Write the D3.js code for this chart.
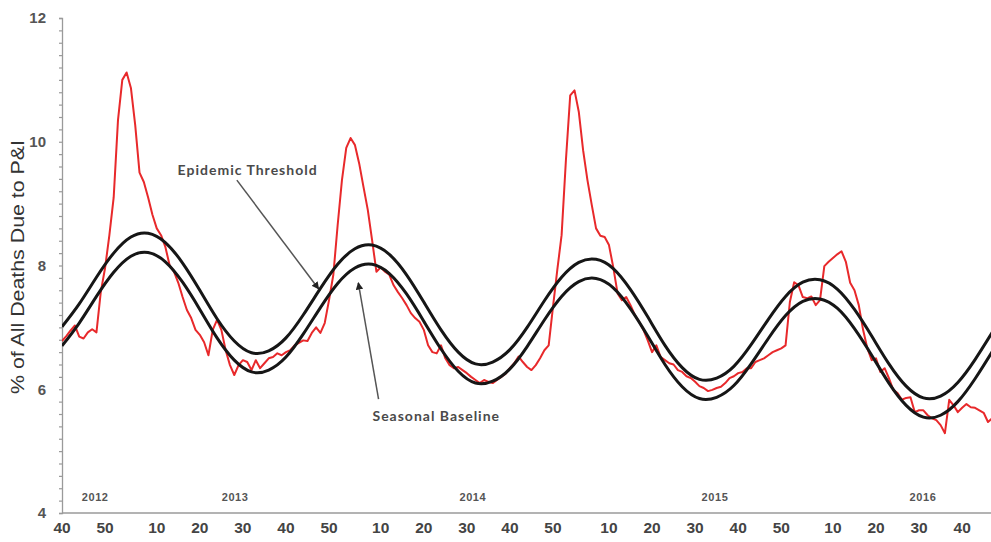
<!DOCTYPE html>
<html>
<head>
<meta charset="utf-8">
<script src="https://cdn.jsdelivr.net/npm/d3@7"></script>
<style>
  html, body { margin: 0; padding: 0; background: #fff; }
  svg { display: block; }
</style>
</head>
<body>
<svg id="chart" width="991" height="542"></svg>
<script>
// Weekly share of all deaths due to pneumonia & influenza (P&I),
// index 0 = MMWR week 40 of 2012.
const startYear = 2012;
const startWeek = 40;
const weeksPerYear = [52, 52, 53, 52, 52]; // 2012 .. 2016

const pniPercent = [
  6.78, 6.86, 6.95, 7.03, 6.85, 6.82, 6.92, 6.97, 6.92, 7.57,
  7.96, 8.49, 9.10, 10.35, 11.00, 11.12, 10.87, 10.27, 9.50, 9.35,
  9.10, 8.82, 8.60, 8.49, 8.30, 8.00, 7.90, 7.72, 7.49, 7.28,
  7.15, 6.96, 6.88, 6.76, 6.55, 6.96, 7.12, 6.96, 6.63, 6.39,
  6.23, 6.39, 6.47, 6.44, 6.31, 6.47, 6.34, 6.42, 6.50, 6.52,
  6.58, 6.55, 6.60, 6.63, 6.71, 6.75, 6.79, 6.78, 6.91, 7.00,
  6.91, 7.07, 7.44, 7.85, 8.65, 9.38, 9.90, 10.06, 9.95, 9.65,
  9.27, 8.90, 8.41, 7.90, 7.97, 7.90, 7.85, 7.68, 7.57, 7.47,
  7.36, 7.23, 7.15, 7.09, 6.96, 6.71, 6.60, 6.58, 6.71, 6.50,
  6.39, 6.34, 6.36, 6.31, 6.26, 6.20, 6.15, 6.10, 6.15, 6.12,
  6.10, 6.15, 6.20, 6.25, 6.34, 6.42, 6.53, 6.44, 6.36, 6.31,
  6.39, 6.50, 6.63, 6.71, 7.33, 7.93, 8.49, 9.70, 10.75, 10.83,
  10.48, 9.86, 9.38, 8.98, 8.60, 8.48, 8.46, 8.33, 7.97, 7.55,
  7.44, 7.49, 7.36, 7.20, 7.09, 6.96, 6.79, 6.60, 6.71, 6.52,
  6.47, 6.42, 6.40, 6.31, 6.28, 6.21, 6.18, 6.12, 6.05, 6.02,
  5.97, 5.99, 6.02, 6.04, 6.10, 6.18, 6.21, 6.26, 6.28, 6.34,
  6.34, 6.44, 6.47, 6.50, 6.55, 6.60, 6.63, 6.66, 6.71, 7.41,
  7.73, 7.68, 7.49, 7.47, 7.50, 7.36, 7.44, 7.99, 8.06, 8.12,
  8.18, 8.23, 8.06, 7.72, 7.60, 7.36, 6.96, 6.66, 6.47, 6.50,
  6.28, 6.34, 6.18, 5.99, 5.94, 5.83, 5.86, 5.87, 5.63, 5.66,
  5.66, 5.58, 5.53, 5.50, 5.42, 5.29, 5.83, 5.74, 5.63, 5.70,
  5.76, 5.71, 5.70, 5.66, 5.62, 5.47, 5.53
];

// Model curves, sampled every fourth week (index).
const curveWeeks = [
  0, 4, 8, 12, 16, 20, 24, 28, 32, 36, 40, 44, 48,
  52, 56, 60, 64, 68, 72, 76, 80, 84, 88, 92, 96, 100,
  104, 108, 112, 116, 120, 124, 128, 132, 136, 140, 144, 148, 152,
  156, 160, 164, 168, 172, 176, 180, 184, 188, 192, 196, 200, 204,
  208, 212, 216
];
const seasonalBaseline = [
  6.70, 7.07, 7.50, 7.89, 8.15, 8.21, 8.06, 7.73, 7.29, 6.83, 6.47, 6.28, 6.31,
  6.52, 6.89, 7.32, 7.71, 7.96, 8.02, 7.87, 7.54, 7.10, 6.65, 6.29, 6.10, 6.13,
  6.33, 6.69, 7.12, 7.50, 7.74, 7.79, 7.64, 7.30, 6.86, 6.40, 6.04, 5.85, 5.87,
  6.06, 6.41, 6.82, 7.19, 7.42, 7.46, 7.31, 6.98, 6.55, 6.10, 5.74, 5.55, 5.58,
  5.80, 6.17, 6.61
];
const epidemicThreshold = [
  7.01, 7.38, 7.81, 8.20, 8.46, 8.52, 8.37, 8.04, 7.60, 7.14, 6.78, 6.59, 6.62,
  6.83, 7.20, 7.63, 8.02, 8.27, 8.33, 8.18, 7.85, 7.41, 6.96, 6.60, 6.41, 6.44,
  6.64, 7.00, 7.43, 7.81, 8.05, 8.10, 7.95, 7.61, 7.17, 6.71, 6.35, 6.16, 6.18,
  6.37, 6.72, 7.13, 7.50, 7.73, 7.77, 7.62, 7.29, 6.86, 6.41, 6.05, 5.86, 5.89,
  6.11, 6.48, 6.92
];

const labelledWeeks = [10, 20, 30, 40, 50];
const yearLabels = ["2012", "2013", "2014", "2015", "2016"];
const yearLabelWeeks = [7.7, 40.2, 95.4, 151.6, 199.9];
const yMajorTicks = [4, 6, 8, 10, 12];

const svg = d3.select("#chart");
const W = 991, H = 542;

const x = d3.scaleLinear().domain([0, 215.7]).range([62, 991]);
const y = d3.scaleLinear().domain([4, 12]).range([513, 18]);

// MMWR week number for each index
const weekOfIndex = [];
{
  let yr = startYear, wk = startWeek;
  for (let i = 0; i <= 216; i++) {
    weekOfIndex.push(wk);
    wk++;
    if (wk > weeksPerYear[yr - startYear]) { wk = 1; yr++; }
  }
}
const xTickIdx = d3.range(0, 216).filter(i => labelledWeeks.includes(weekOfIndex[i]) && x(i) <= W);

svg.append("defs").append("clipPath").attr("id", "plot")
  .append("rect").attr("x", 62).attr("y", 0).attr("width", W - 62).attr("height", 513);

const marker = svg.select("defs").append("marker")
  .attr("id", "arrow").attr("viewBox", "0 0 10 10")
  .attr("refX", 9).attr("refY", 5)
  .attr("markerWidth", 5).attr("markerHeight", 5)
  .attr("orient", "auto-start-reverse");
marker.append("path").attr("d", "M0,0 L10,5 L0,10 z").attr("fill", "#222");

// Y axis with minor ticks
const yAxis = d3.axisLeft(y)
  .tickValues(d3.range(4, 12.001, 0.2))
  .tickSize(3)
  .tickFormat("");
const yg = svg.append("g").attr("transform", "translate(62,0)").call(yAxis);
yg.select(".domain").attr("stroke", "#9a9a9a").attr("stroke-width", 1.3);
yg.selectAll(".tick line").attr("stroke", "#9a9a9a").attr("stroke-width", 1.2);

svg.append("g").selectAll("text").data(yMajorTicks).join("text")
  .attr("x", 46).attr("y", d => y(d)).attr("dy", "0.35em")
  .attr("text-anchor", "end")
  .attr("font-family", "Liberation Sans, Arial, sans-serif")
  .attr("font-size", 15).attr("font-weight", "bold").attr("fill", "#555")
  .text(d => d);

// X axis
svg.append("line").attr("x1", 62).attr("x2", W).attr("y1", y(4)).attr("y2", y(4))
  .attr("stroke", "#9a9a9a").attr("stroke-width", 1.5);

svg.append("g").selectAll("text").data(xTickIdx).join("text")
  .attr("x", d => x(d)).attr("y", 533)
  .attr("text-anchor", "middle")
  .attr("font-family", "Liberation Sans, Arial, sans-serif")
  .attr("font-size", 15.5).attr("font-weight", "bold").attr("fill", "#444")
  .text(d => weekOfIndex[d]);

svg.append("g").selectAll("text").data(yearLabels).join("text")
  .attr("x", (d, i) => x(yearLabelWeeks[i])).attr("y", y(4) - 12)
  .attr("text-anchor", "middle")
  .attr("font-family", "Liberation Sans, Arial, sans-serif")
  .attr("font-size", 11).attr("font-weight", "bold").attr("fill", "#555")
  .attr("letter-spacing", 0.6)
  .text(d => d);

// Y axis title
svg.append("text")
  .attr("transform", `translate(24,267) rotate(-90)`)
  .attr("text-anchor", "middle")
  .attr("font-family", "Liberation Sans, Arial, sans-serif")
  .attr("font-size", 18).attr("fill", "#333")
  .attr("textLength", 254).attr("lengthAdjust", "spacingAndGlyphs")
  .text("% of All Deaths Due to P&I");

const plot = svg.append("g").attr("clip-path", "url(#plot)");

const smooth = d3.line()
  .x((d, i) => x(curveWeeks[i]))
  .y(d => y(d))
  .curve(d3.curveNatural);

plot.append("path").datum(pniPercent)
  .attr("fill", "none").attr("stroke", "#e8292b").attr("stroke-width", 2)
  .attr("stroke-linejoin", "round")
  .attr("d", d3.line().x((d, i) => x(i)).y(d => y(d)));

plot.append("path").datum(seasonalBaseline)
  .attr("fill", "none").attr("stroke", "#161616").attr("stroke-width", 3)
  .attr("d", smooth);
plot.append("path").datum(epidemicThreshold)
  .attr("fill", "none").attr("stroke", "#161616").attr("stroke-width", 3)
  .attr("d", smooth);

// Annotations (data coordinates)
const notes = [
  { text: "Epidemic Threshold", tx: 43.1, ty: 9.54, from: [40.6, 9.38], to: [59.6, 7.62] },
  { text: "Seasonal Baseline", tx: 86.9, ty: 5.56, from: [73.5, 5.84], to: [68.8, 7.72] }
];
notes.forEach(n => {
  svg.append("line")
    .attr("x1", x(n.from[0])).attr("y1", y(n.from[1]))
    .attr("x2", x(n.to[0])).attr("y2", y(n.to[1]))
    .attr("stroke", "#555").attr("stroke-width", 1.5)
    .attr("marker-end", "url(#arrow)");
  svg.append("text")
    .attr("x", x(n.tx)).attr("y", y(n.ty)).attr("dy", "0.35em")
    .attr("text-anchor", "middle")
    .attr("font-family", "Lato, Open Sans, sans-serif")
    .attr("font-size", 14).attr("font-weight", "bold").attr("fill", "#4a4a4a")
    .attr("letter-spacing", 1)
    .text(n.text);
});
</script>
</body>
</html>
